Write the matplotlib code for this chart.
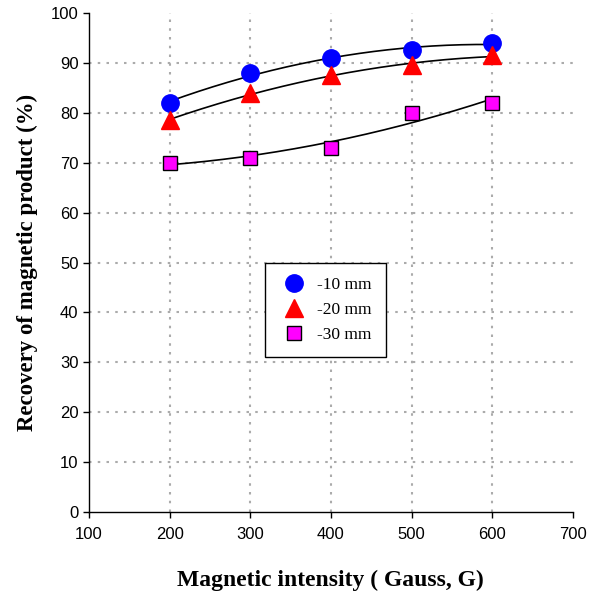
import numpy as np
import matplotlib.pyplot as plt

intensity = [200, 300, 400, 500, 600]
rec_10mm = [82, 88, 91, 92.5, 94]
rec_20mm = [78.5, 84, 87.5, 89.5, 91.5]
rec_30mm = [70, 71, 73, 80, 82]
x_ticks = [100, 200, 300, 400, 500, 600, 700]
y_ticks = list(range(0, 101, 10))

series = [
    ("-10 mm", rec_10mm, dict(marker="o", color="blue", markersize=12.5, markeredgecolor="blue")),
    ("-20 mm", rec_20mm, dict(marker="^", color="red", markersize=12.5, markeredgecolor="red")),
    ("-30 mm", rec_30mm, dict(marker="s", color="magenta", markersize=10, markeredgecolor="black", markeredgewidth=1)),
]

fig = plt.figure(figsize=(5.9, 5.94), dpi=100)
ax = fig.add_axes([0.1508, 0.138, 0.82, 0.840])

xs = np.array(intensity, dtype=float)
xfine = np.linspace(xs.min(), xs.max(), 200)
for label, vals, style in series:
    # 2nd order trend line through each series
    coef = np.polyfit(xs, vals, 2)
    ax.plot(xfine, np.polyval(coef, xfine), color="black", lw=1.2, zorder=2)
    ax.plot(xs, vals, linestyle="none", label=label, zorder=3, **style)

ax.set_xlim(100, 700)
ax.set_ylim(0, 100)
ax.set_xticks(x_ticks)
ax.set_yticks(y_ticks)
ax.tick_params(direction="out", length=4, labelsize=12, width=1)
for t in ax.get_xticklabels() + ax.get_yticklabels():
    t.set_fontfamily("Liberation Sans")
ax.tick_params(axis="x", pad=7)

ax.spines["top"].set_visible(False)
ax.spines["right"].set_visible(False)
ax.spines["left"].set_linewidth(1)
ax.spines["bottom"].set_linewidth(1)

# dotted grid, skipping the edges at 100 and 700
for x in x_ticks[1:-1]:
    ax.axvline(x, color="#ababab", ls=(0, (1.2, 3)), lw=1.5, zorder=1)
for y in y_ticks[1:-1]:
    ax.axhline(y, color="#ababab", ls=(0, (1.2, 3)), lw=1.5, zorder=1)

ax.set_xlabel("Magnetic intensity ( Gauss, G)", fontfamily="Liberation Serif",
              fontweight="bold", fontsize=17, labelpad=20)
ax.set_ylabel("Recovery of magnetic product (%)", fontfamily="Liberation Serif",
              fontweight="bold", fontsize=16.5, labelpad=9)

leg = ax.legend(loc="upper left", bbox_to_anchor=(0.364, 0.499), fancybox=False,
                edgecolor="black", framealpha=1, borderpad=0.8, labelspacing=0.5,
                handletextpad=0.5, borderaxespad=0, handlelength=1.7,
                prop={"family": "Liberation Serif", "size": 12.5})
leg.get_frame().set_linewidth(1)

fig.savefig("out.png", dpi=100)
